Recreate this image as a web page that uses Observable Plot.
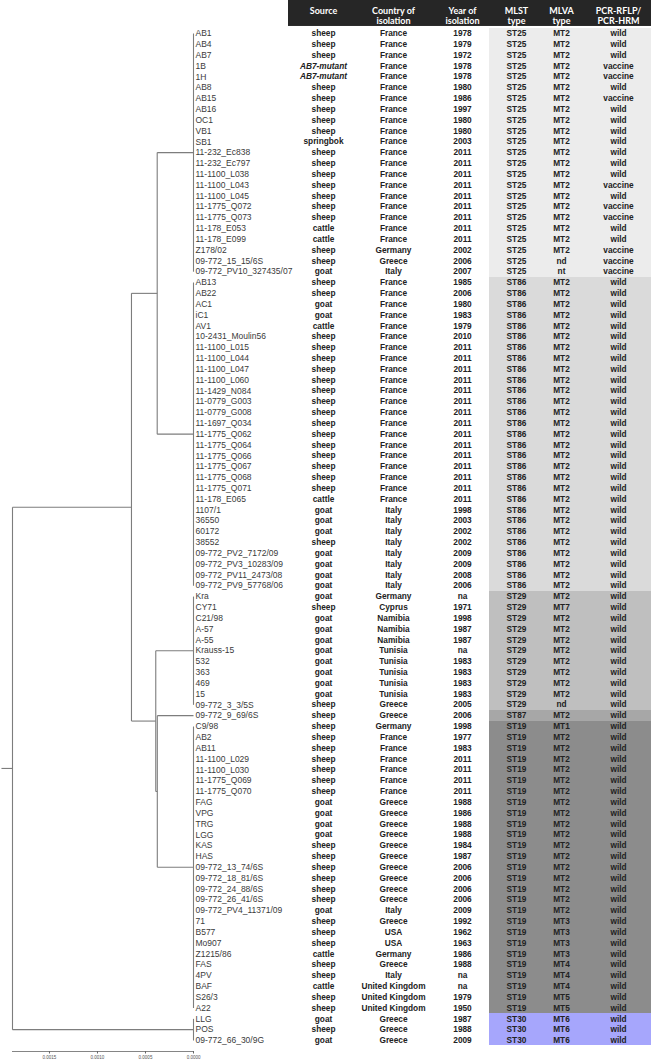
<!DOCTYPE html>
<html><head><meta charset="utf-8">
<script src="https://cdn.jsdelivr.net/npm/d3@7"></script>
<script src="https://cdn.jsdelivr.net/npm/@observablehq/plot@0.6"></script>
<style>
html,body{margin:0;padding:0;background:#fff;overflow:hidden;}
#chart{position:relative;width:651px;height:1062px;}
#chart svg{position:absolute;left:0;top:0;}
</style></head><body><div id="chart"></div>
<script>
// ---------- data ----------
const leaves = ["AB1","AB4","AB7","1B","1H","AB8","AB15","AB16","OC1","VB1","SB1","11-232_Ec838","11-232_Ec797","11-1100_L038","11-1100_L043","11-1100_L045","11-1775_Q072","11-1775_Q073","11-178_E053","11-178_E099","Z178/02","09-772_15_15/6S","09-772_PV10_327435/07",
"AB13","AB22","AC1","iC1","AV1","10-2431_Moulin56","11-1100_L015","11-1100_L044","11-1100_L047","11-1100_L060","11-1429_N084","11-0779_G003","11-0779_G008","11-1697_Q034","11-1775_Q062","11-1775_Q064","11-1775_Q066","11-1775_Q067","11-1775_Q068","11-1775_Q071","11-178_E065","1107/1","36550","60172","38552","09-772_PV2_7172/09","09-772_PV3_10283/09","09-772_PV11_2473/08","09-772_PV9_57768/06",
"Kra","CY71","C21/98","A-57","A-55","Krauss-15","532","363","469","15","09-772_3_3/5S",
"09-772_9_69/6S",
"C9/98","AB2","AB11","11-1100_L029","11-1100_L030","11-1775_Q069","11-1775_Q070","FAG","VPG","TRG","LGG","KAS","HAS","09-772_13_74/6S","09-772_18_81/6S","09-772_24_88/6S","09-772_26_41/6S","09-772_PV4_11371/09","71","B577","Mo907","Z1215/86","FAS","4PV","BAF","S26/3","A22",
"LLG","POS","09-772_66_30/9G"];

const source = ["sheep","sheep","sheep","AB7-mutant","AB7-mutant","sheep","sheep","sheep","sheep","sheep","springbok","sheep","sheep","sheep","sheep","sheep","sheep","sheep","cattle","cattle","sheep","sheep","goat",
"sheep","sheep","goat","goat","cattle","sheep","sheep","sheep","sheep","sheep","sheep","sheep","sheep","sheep","sheep","sheep","sheep","sheep","sheep","sheep","cattle","goat","goat","goat","sheep","goat","goat","goat","goat",
"goat","sheep","goat","goat","goat","goat","goat","goat","goat","goat","sheep",
"sheep",
"sheep","sheep","sheep","sheep","sheep","sheep","sheep","goat","goat","goat","goat","sheep","sheep","sheep","sheep","sheep","sheep","goat","sheep","sheep","sheep","cattle","sheep","sheep","cattle","sheep","sheep",
"goat","sheep","goat"];

const country = ["France","France","France","France","France","France","France","France","France","France","France","France","France","France","France","France","France","France","France","France","Germany","Greece","Italy",
"France","France","France","France","France","France","France","France","France","France","France","France","France","France","France","France","France","France","France","France","France","Italy","Italy","Italy","Italy","Italy","Italy","Italy","Italy",
"Germany","Cyprus","Namibia","Namibia","Namibia","Tunisia","Tunisia","Tunisia","Tunisia","Tunisia","Greece",
"Greece",
"Germany","France","France","France","France","France","France","Greece","Greece","Greece","Greece","Greece","Greece","Greece","Greece","Greece","Greece","Italy","Greece","USA","USA","Germany","Greece","Italy","United Kingdom","United Kingdom","United Kingdom",
"Greece","Greece","Greece"];

const year = ["1978","1979","1972","1978","1978","1980","1986","1997","1980","1980","2003","2011","2011","2011","2011","2011","2011","2011","2011","2011","2002","2006","2007",
"1985","2006","1980","1983","1979","2010","2011","2011","2011","2011","2011","2011","2011","2011","2011","2011","2011","2011","2011","2011","2011","1998","2003","2002","2002","2009","2009","2008","2006",
"na","1971","1998","1987","1987","na","1983","1983","1983","1983","2005",
"2006",
"1998","1977","1983","2011","2011","2011","2011","1988","1986","1988","1988","1984","1987","2006","2006","2006","2006","2009","1992","1962","1963","1986","1988","na","na","1979","1950",
"1987","1988","2009"];

const mlst = [...Array(23).fill("ST25"), ...Array(29).fill("ST86"), ...Array(11).fill("ST29"), "ST87", ...Array(27).fill("ST19"), ...Array(3).fill("ST30")];

const mlva = ["MT2","MT2","MT2","MT2","MT2","MT2","MT2","MT2","MT2","MT2","MT2","MT2","MT2","MT2","MT2","MT2","MT2","MT2","MT2","MT2","MT2","nd","nt",
"MT2","MT2","MT2","MT2","MT2","MT2","MT2","MT2","MT2","MT2","MT2","MT2","MT2","MT2","MT2","MT2","MT2","MT2","MT2","MT2","MT2","MT2","MT2","MT2","MT2","MT2","MT2","MT2","MT2",
"MT2","MT7","MT2","MT2","MT2","MT2","MT2","MT2","MT2","MT2","nd",
"MT2",
"MT1","MT2","MT2","MT2","MT2","MT2","MT2","MT2","MT2","MT2","MT2","MT2","MT2","MT2","MT2","MT2","MT2","MT2","MT3","MT3","MT3","MT3","MT4","MT4","MT4","MT5","MT5",
"MT6","MT6","MT6"];

const pcr = ["wild","wild","wild","vaccine","vaccine","wild","vaccine","wild","wild","wild","wild","wild","wild","wild","vaccine","wild","vaccine","vaccine","wild","wild","vaccine","vaccine","vaccine",
...Array(29).fill("wild"), ...Array(11).fill("wild"), "wild", ...Array(27).fill("wild"), ...Array(3).fill("wild")];

const headers = ["Source","Country of\nisolation","Year of\nisolation","MLST\ntype","MLVA\ntype","PCR-RFLP/\nPCR-HRM"];

// tree topology (internal nodes, heights)
const treeNodes = ["root","A","B","C","D"];
const treeHeights = [0.001885, 0.000646, 0.000378, 0.000393, 0.000377];
const treeChildren = [["A","ST30"],["B","C"],["ST25","ST86"],["ST29","D"],["ST87","ST19"]];
const rootStubHeight = 0.002;
const scaleTicks = [0, 0.0005, 0.0010, 0.0015];

const stOrder = ["ST25","ST86","ST29","ST87","ST19","ST30"];
const stColors = ["#ececec","#dadada","#bfbfbf","#a7a7a7","#8c8c8c","#a6a6fc"];

// ---------- tree geometry from topology ----------
const info = {};
mlst.forEach((st, i) => { const c = info[st] ??= {h: 0, first: i, last: i}; c.last = i; });
const segs = [];
for (const st in info) {
  const c = info[st]; c.y = (c.first + c.last) / 2;
  segs.push({x1: 0, x2: 0, y1: c.first, y2: c.last});
}
function place(name) {
  if (info[name]) return info[name];
  const k = treeNodes.indexOf(name);
  const kids = treeChildren[k].map(place);
  const n = {h: treeHeights[k], y: (kids[0].y + kids[kids.length - 1].y) / 2};
  segs.push({x1: n.h, x2: n.h, y1: kids[0].y, y2: kids[kids.length - 1].y});
  kids.forEach(c => segs.push({x1: n.h, x2: c.h, y1: c.y, y2: c.y}));
  info[name] = n;
  return n;
}
const root = place("root");
segs.push({x1: rootStubHeight, x2: root.h, y1: root.y, y2: root.y});

const rows = leaves.map((name, i) => ({i, name, source: source[i], country: country[i], year: year[i], mlst: mlst[i], mlva: mlva[i], pcr: pcr[i]}));
const fields = ["source","country","year","mlst","mlva","pcr"];
const cells = rows.flatMap(r => fields.map((f, j) => ({i: r.i, col: j, value: r[f]})));

const W = 651, H = 1062;
const yScale = {domain: [0, leaves.length - 1], range: [33, 1040], axis: null};

// ---------- tree plot ----------
const tree = Plot.plot({
  width: W, height: H,
  marginLeft: 12, marginRight: W - 193, marginTop: 0, marginBottom: 11,
  style: {background: "transparent", overflow: "visible", fontFamily: "Liberation Sans, Arial, sans-serif"},
  x: {domain: [root.h, 0]},
  y: yScale,
  marks: [
    Plot.frame({anchor: "bottom", stroke: "#666", strokeWidth: 0.8}),
    Plot.axisX({ticks: scaleTicks, tickFormat: d3.format(".4f"), tickSize: 2.5, tickPadding: 1.5, fontSize: 4.5, stroke: "#666", fill: "#555"}),
    Plot.link(segs, {x1: "x1", y1: "y1", x2: "x2", y2: "y2", stroke: "#7d7d7d", strokeWidth: 1.1}),
    Plot.text(rows, {x: () => 0, y: "i", text: "name", textAnchor: "start", dx: 2, fontSize: 8.5, fill: "#3a3a3a"})
  ]
});

// ---------- table plot ----------
const table = Plot.plot({
  width: W, height: H, margin: 0,
  style: {background: "transparent", overflow: "visible", fontFamily: "Liberation Sans, Arial, sans-serif"},
  x: {type: "linear", domain: [0, 1, 2, 3, 4, 5], range: [323, 393, 462, 516, 561, 618], axis: null},
  y: yScale,
  color: {type: "ordinal", domain: stOrder, range: stColors},
  marks: [
    Plot.rect(rows, {x1: () => 2.5, x2: () => 5.6, y1: d => d.i - 0.5, y2: d => d.i + 0.5, fill: "mlst", shapeRendering: "crispEdges"}),
    Plot.rect([headers], {x1: () => -0.5, x2: () => 5.6, y1: () => -3.1, y2: () => -0.65, fill: "#262626"}),
    Plot.text(headers, {x: (d, i) => i, y: () => -2.55, text: d => d, lineAnchor: "top", lineHeight: 1.2, fill: "white", fontWeight: "bold", fontSize: 9, fontFamily: "Lato, Open Sans, sans-serif"}),
    Plot.text(cells, {filter: d => d.value !== "AB7-mutant", x: "col", y: "i", text: "value", fontSize: 8.3, fontWeight: "bold", fill: "#222"}),
    Plot.text(cells, {filter: d => d.value === "AB7-mutant", x: "col", y: "i", text: "value", fontSize: 8.3, fontWeight: "bold", fontStyle: "italic", fill: "#222"})
  ]
});

const chart = document.getElementById("chart");
chart.appendChild(table);
chart.appendChild(tree);
</script>
</body></html>
